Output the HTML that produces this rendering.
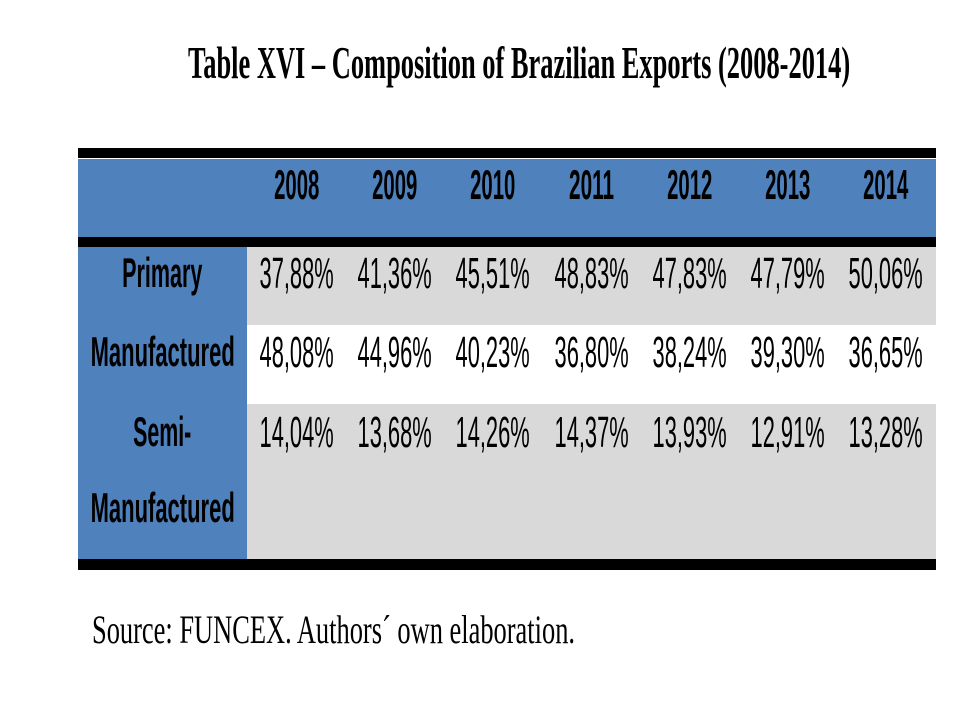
<!DOCTYPE html>
<html><head><meta charset="utf-8">
<style>
body{margin:0;width:960px;height:720px;background:#fff;position:relative;overflow:hidden;font-family:"Liberation Sans",sans-serif;}
.a{position:absolute;}
.t{position:absolute;white-space:nowrap;transform-origin:center center;line-height:1;}
</style></head><body>
<div class="t" id="title" style="font-family:'Liberation Serif',serif;font-weight:bold;font-size:46px;">Table XVI – Composition of Brazilian Exports (2008-2014)</div>
<div class="a" style="left:78px;top:148px;width:858px;height:10px;background:#000"></div>
<div class="a" style="left:78px;top:159px;width:858px;height:78px;background:#4f81bd"></div>
<div class="a" style="left:78px;top:237px;width:858px;height:10px;background:#000"></div>
<div class="a" style="left:78px;top:247px;width:858px;height:78px;background:#d9d9d9"></div>
<div class="a" style="left:78px;top:325px;width:858px;height:79px;background:#fff"></div>
<div class="a" style="left:78px;top:404px;width:858px;height:155px;background:#d9d9d9"></div>
<div class="a" style="left:78px;top:247px;width:169px;height:312px;background:#4f81bd"></div>
<div class="a" style="left:78px;top:559px;width:858px;height:11px;background:#000"></div>
<div id="cells"></div>
<div class="t" id="source" style="font-family:'Liberation Serif',serif;font-size:40px;">Source: FUNCEX. Authors´ own elaboration.</div>
<script>
const years=["2008","2009","2010","2011","2012","2013","2014"];
const primary=["37,88%","41,36%","45,51%","48,83%","47,83%","47,79%","50,06%"];
const manufactured=["48,08%","44,96%","40,23%","36,80%","38,24%","39,30%","36,65%"];
const semiManufactured=["14,04%","13,68%","14,26%","14,37%","13,93%","12,91%","13,28%"];
const root=document.getElementById('cells');
function put(text,cx,cy,size,bold,name,tw){
  const d=document.createElement('div');
  d.className='t';
  d.textContent=text;
  d.style.fontSize=size+'px';
  if(bold)d.style.fontWeight='bold';
  
  
  root.appendChild(d);
  const w=d.offsetWidth,h=d.offsetHeight;
  d.style.left=(cx-w/2)+'px';d.style.top=(cy-h/2)+'px';
  const s=tw?tw/w:0.5;
  d.style.transform='scaleX('+s+')';
}
function fit(id,x0,x1,cy){
  const d=document.getElementById(id);
  const w=d.offsetWidth,h=d.offsetHeight,cx=(x0+x1)/2;
  d.style.left=(cx-w/2)+'px';d.style.top=(cy-h/2)+'px';
  d.style.transform='scaleX('+((x1-x0)/w)+')';
}
const colX=i=>247+98.3*(i+0.5);
years.forEach((y,i)=>put(y,colX(i),185,42,true,'year-header',45));
primary.forEach((v,i)=>put(v,colX(i),274,44,false,'primary-value',74));
manufactured.forEach((v,i)=>put(v,colX(i),353,44,false,'manufactured-value',74));
semiManufactured.forEach((v,i)=>put(v,colX(i),433,44,false,'semi-manufactured-value',74));
put("Primary",162,273,42,true,'row-label-primary',80);
put("Manufactured",162,352,42,true,'row-label-manufactured',144);
put("Semi-",162,432,42,true,'row-label-semi',58);
put("Manufactured",162,508,42,true,'row-label-semi-2',144);
fit('title',188,850,63);
fit('source',92,575,630);
</script>
</body></html>
